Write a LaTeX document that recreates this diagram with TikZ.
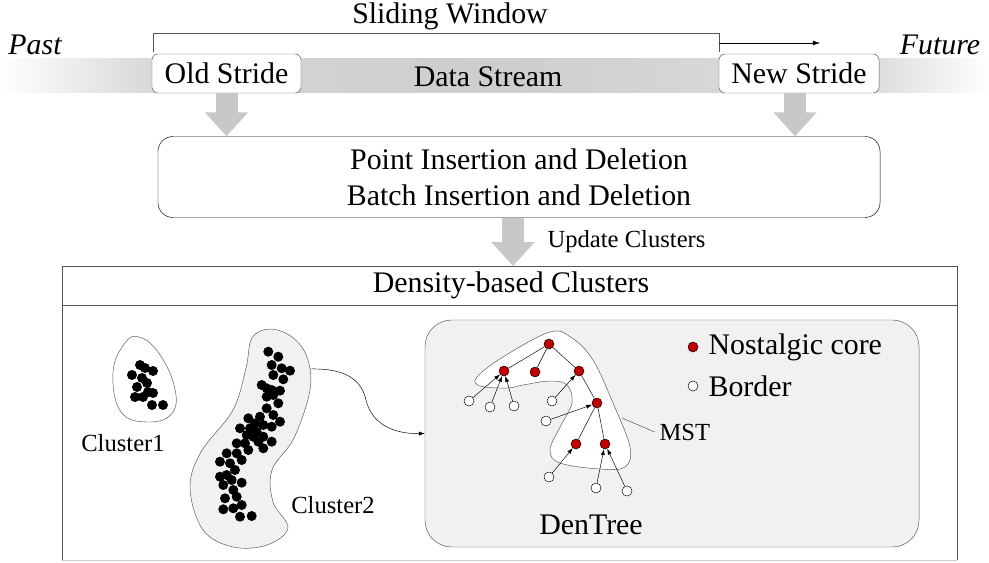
\documentclass[tikz,border=0pt]{standalone}
\usepackage{fontspec}
\setmainfont{Liberation Serif}
\usepackage{xcolor}
\usepackage{tikz}
\usetikzlibrary{calc, positioning, arrows.meta}

\definecolor{bandgray}{HTML}{D6D6D6}
\definecolor{fatgray}{HTML}{C8C8C8}
\definecolor{panelgray}{HTML}{F1F1F1}
\definecolor{linegray}{HTML}{555555}
\definecolor{corered}{HTML}{C00000}

\begin{document}
\begin{tikzpicture}[x=0.03cm, y=-0.03cm,
    every node/.style={font=\fontsize{25.5}{30.6}\selectfont, inner sep=2pt},
    small/.style={font=\fontsize{21}{25}\selectfont},
    stridebox/.style={draw=linegray, fill=white, rounded corners=0.18cm, minimum height=1.17cm},
    fatarrow/.style={draw=fatgray, line width=0.66cm, -{Triangle[width=1.26cm, length=0.72cm]}},
    core/.style={circle, draw=black, fill=corered, minimum size=0.3cm, inner sep=0pt},
    border/.style={circle, draw=black, fill=white, minimum size=0.3cm, inner sep=0pt},
    ptr/.style={-{Latex[length=5pt, width=3.5pt]}, thin}]
    \useasboundingbox (0,0) rectangle (989,562);

    % data stream band
    \shade[left color=white, right color=bandgray] (0,59) rectangle (160,92);
    \shade[left color=bandgray, right color=fatgray!90] (160,59) rectangle (500,92);
    \shade[left color=fatgray!90, right color=bandgray!80] (500,59) rectangle (880,92);
    \shade[left color=bandgray!80, right color=white] (880,59) rectangle (989,92);

    \node (past) at (35,45) {\itshape Past};
    \node (future) at (940,45) {\itshape Future};
    \node (window) at (450,16) {Sliding Window};
    \node (stream) at (488,77) {Data Stream};

    % sliding window bracket
    \coordinate (wl) at (153,52);
    \coordinate (wr) at (719,52);
    \coordinate (wa) at (719,43);
    \coordinate (wb) at (820,43);
    \draw[linegray] (wl) |- (719,33) -- (wr);
    \draw[-{Latex[length=6pt, width=4pt]}] (wa) -- (wb);

    \node[stridebox, minimum width=4.47cm] (old) at (226.5,73.5) {Old Stride};
    \node[stridebox, minimum width=4.8cm] (new) at (799,73.5) {New Stride};

    \node[draw=black, rounded corners=0.45cm, minimum width=21.66cm, minimum height=2.43cm, align=center] (proc) at (519,177)
        {Point Insertion and Deletion\\Batch Insertion and Deletion};

    \draw[fatarrow] (old.south) -- (old.south |- proc.north);
    \draw[fatarrow] ([xshift=-0.12cm]new.south) -- ([xshift=-0.12cm]new.south |- proc.north);

    % clusters panel
    \draw[linegray, thick] (62,305) -- (957,305);
    \draw[linegray, thick] (62,560) |- (957,266) -- (957,560);
    \draw[gray!40] (62,560) -- (957,560);
    \node (dbc) at (511,285) {Density-based Clusters};
    \coordinate (top) at (513,266);
    \draw[fatarrow] ($(proc.south)+(-6,0)$) -- (top);
    \node[small, anchor=west] (upd) at (545,242) {Update Clusters};

    % cluster 1
    \draw[linegray] plot[smooth cycle, tension=0.7] coordinates
        {(113,372) (125,343) (139,337) (158,352) (174,385) (173,412) (150,422) (121,412)};
    \foreach \x/\y in {140/365,145/368,153/371,132/375,142/378,147/383,137/387,
        148/392,153/393,135/397,143/397,152/405,163/405} {
        \fill (\x,\y) circle (0.15cm);
    }
    \node[small] (cl1) at (123,443) {Cluster1};

    % cluster 2
    \draw[linegray, fill=panelgray] plot[smooth cycle, tension=0.6] coordinates
        {(252,338) (270,329) (292,337) (307,357) (310,390) (294,438) (272,470)
         (273,502) (288,528) (267,545) (233,547) (203,530) (190,488) (201,452)
         (233,410) (246,368)};
    \foreach \x/\y in {268.3/351.7,278.3/356.7,271.7/365,281.7/368.3,290/370.7,273.3/375,
        283.3/379.3,261.7/385,266.7/388.3,271.7/390,280/390.7,266.7/396.7,273.3/395,
        278.3/403.3,266.7/408.3,260/416.7,273.3/415,248.3/418.3,255/423.3,263.3/425,
        280/421.7,240/428.3,250/428.3,256.7/431.7,271.7/426.7,246.7/435,253.3/436.7,
        263.3/436.7,236.7/443.3,245/443.3,258.3/441.7,271.7/441.7,248.3/450,263.3/448.3,
        226.7/453.3,236.7/453.3,241.7/460,220/461.7,230/463.3,235/470,220/476.7,
        226.7/475,231.7/480,241.7/482.7,223.3/485,233.3/490,225/498.3,236.7/496.7,
        223.3/509.3,233.3/508.3,241.7/505,240/516.7,251.7/516} {
        \fill (\x,\y) circle (0.15cm);
    }
    \node[small] (cl2) at (333,505) {Cluster2};

    % DenTree panel
    \node[draw=linegray, fill=panelgray, rounded corners=0.8cm, minimum width=14.82cm, minimum height=6.81cm] (dent) at (672,433.5) {};
    \coordinate (c2out) at (310,369);
    \draw[ptr] (c2out) .. controls (350,368) and (362,383) .. (366,400)
        .. controls (372,425) and (395,434) .. (dent.west);

    % MST region
    \draw[linegray, fill=white] plot[smooth cycle, tension=0.6] coordinates
        {(477,377) (503,357) (550,332) (572,338) (593,360) (613,403) (630,447)
         (625,467) (600,469) (560,463) (550,450) (560,427) (572,403) (567,385)
         (550,381) (523,385) (507,388) (480,386)};
    \coordinate (mstp) at (622,418);

    \foreach \n/\x/\y in {r/549/344, a/504/371, b/535/372, c/579/371, d/597/403, e/576/444, f/605/444} {
        \node[core] (\n) at (\x,\y) {};
    }
    \foreach \n/\x/\y in {p1/469/401, p2/490/407, p3/514/406, p4/552/401, p5/546/421, p6/549/477, p7/596/488, p8/627/491} {
        \node[border] (\n) at (\x,\y) {};
    }
    \foreach \u/\v in {r/a, r/b, r/c, c/d, d/e, d/f} {
        \draw (\u) -- (\v);
    }
    \foreach \u/\v in {p1/a, p2/a, p3/a, p4/c, p5/d, p6/e, p7/f, p8/f} {
        \draw[ptr] (\u) -- (\v);
    }

    \node[small, anchor=west] (mst) at (657,432) {MST};
    \draw[linegray] (mstp) -- ([xshift=-2pt]mst.west);
    \node (dtlabel) at (591,525) {DenTree};

    % legend
    \node[core] (lcore) at (693,347) {};
    \node[anchor=west] (lcoretx) at (706,347) {Nostalgic core};
    \node[border] (lbord) at (693,386) {};
    \node[anchor=west] (lbordtx) at (706,386) {Border};
\end{tikzpicture}
\end{document}
